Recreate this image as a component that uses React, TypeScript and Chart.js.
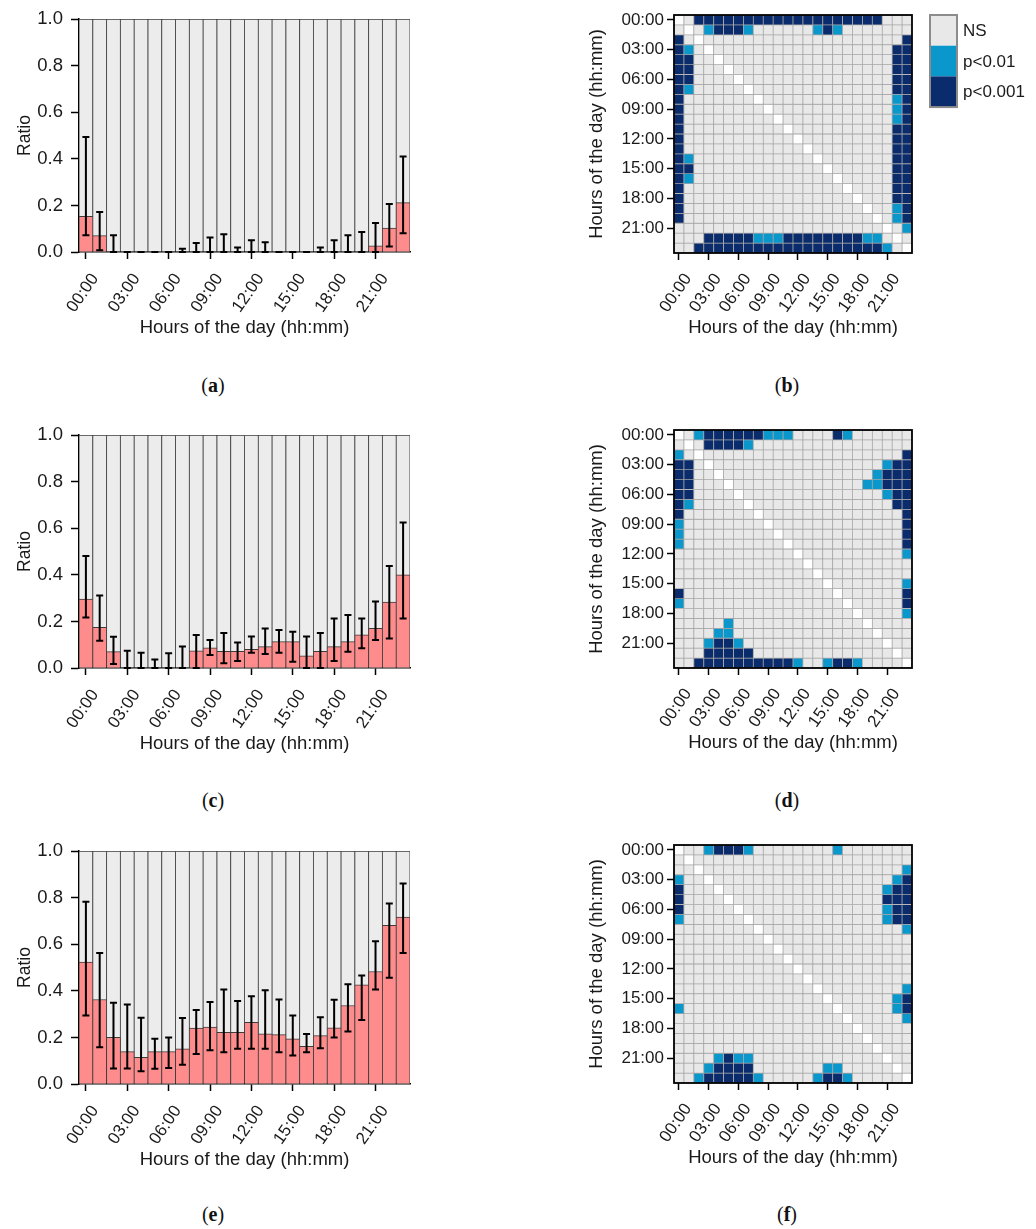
import React, { useEffect, useRef } from 'react';
import { Chart, registerables } from 'chart.js';

Chart.register(...registerables);

// ---------------- data ----------------
const HOUR_LABELS = [
  '00:00', '01:00', '02:00', '03:00', '04:00', '05:00', '06:00', '07:00',
  '08:00', '09:00', '10:00', '11:00', '12:00', '13:00', '14:00', '15:00',
  '16:00', '17:00', '18:00', '19:00', '20:00', '21:00', '22:00', '23:00',
];
const TICK_HOURS = [0, 3, 6, 9, 12, 15, 18, 21];
const RATIO_TICKS = [0, 0.2, 0.4, 0.6, 0.8, 1.0];
const FULL_SHARE = [1, 1, 1, 1, 1, 1, 1, 1, 1, 1, 1, 1, 1, 1, 1, 1, 1, 1, 1, 1, 1, 1, 1, 1];
const CELL_UNIT = [1, 1, 1, 1, 1, 1, 1, 1, 1, 1, 1, 1, 1, 1, 1, 1, 1, 1, 1, 1, 1, 1, 1, 1];

const X_TITLE = 'Hours of the day (hh:mm)';
const Y_TITLE_BAR = 'Ratio';
const Y_TITLE_HEAT = 'Hours of the day (hh:mm)';
const SIG_LABELS = ['NS', 'p<0.01', 'p<0.001'];
const SIG_CODES = ['.', 'o', 'X'];
const CAPTIONS = ['a', 'b', 'c', 'd', 'e', 'f'];

// (a)
const A_RATIO = [0.153, 0.07, 0, 0, 0, 0, 0, 0, 0, 0, 0, 0, 0, 0, 0, 0, 0, 0, 0, 0, 0, 0.026, 0.103, 0.212];
const A_LOW = [0.072, 0.007, 0, 0, 0, 0, 0, 0, 0, 0, 0, 0, 0, 0, 0, 0, 0, 0, 0, 0, 0, 0, 0.024, 0.08];
const A_HIGH = [0.494, 0.172, 0.072, 0, 0, 0, 0, 0.014, 0.039, 0.062, 0.076, 0.019, 0.05, 0.042, 0, 0, 0, 0.019, 0.05, 0.072, 0.086, 0.125, 0.206, 0.41];

// (c)
const C_RATIO = [0.296, 0.175, 0.07, 0, 0, 0, 0, 0, 0.074, 0.087, 0.072, 0.072, 0.08, 0.092, 0.113, 0.113, 0.052, 0.072, 0.092, 0.113, 0.142, 0.17, 0.283, 0.4];
const C_LOW = [0.217, 0.117, 0.017, 0, 0, 0, 0, 0, 0, 0.056, 0.02, 0.03, 0.066, 0.06, 0.066, 0.027, 0, 0, 0.03, 0.07, 0.085, 0.12, 0.127, 0.213];
const C_HIGH = [0.481, 0.311, 0.134, 0.074, 0.066, 0.037, 0.063, 0.092, 0.142, 0.12, 0.15, 0.11, 0.135, 0.17, 0.163, 0.156, 0.135, 0.15, 0.213, 0.228, 0.213, 0.285, 0.438, 0.625];

// (e)
const E_RATIO = [0.524, 0.363, 0.2, 0.139, 0.115, 0.139, 0.139, 0.151, 0.24, 0.244, 0.222, 0.222, 0.265, 0.215, 0.212, 0.194, 0.162, 0.208, 0.241, 0.337, 0.426, 0.483, 0.681, 0.717];
const E_LOW = [0.294, 0.158, 0.067, 0.067, 0.055, 0.065, 0.069, 0.083, 0.129, 0.145, 0.136, 0.151, 0.151, 0.151, 0.136, 0.122, 0.136, 0.154, 0.2, 0.225, 0.275, 0.406, 0.456, 0.562];
const E_HIGH = [0.782, 0.562, 0.349, 0.341, 0.284, 0.194, 0.2, 0.283, 0.318, 0.352, 0.406, 0.356, 0.377, 0.402, 0.363, 0.294, 0.215, 0.287, 0.362, 0.428, 0.466, 0.613, 0.775, 0.861];

// significance matrices: '.' NS, 'o' p<0.01, 'X' p<0.001, '-' diagonal
// (columns grouped by six: 00-05 | 06-11 | 12-17 | 18-23)
const HEAT_B = [
  '-.XXXX XXXXXX XXXXXX XXX...',
  '.-.oXX Xo.... ..oXo. ......',
  'X.-... ...... ...... .....X',
  'Xo.-.. ...... ...... ....XX',
  'XX..-. ...... ...... ....XX',
  'XX...- ...... ...... ....XX',
  'XX.... -..... ...... ....XX',
  'Xo.... .-.... ...... ....XX',
  'X..... ..-... ...... ....oX',
  'X..... ...-.. ...... ....oX',
  'X..... ....-. ...... ....oX',
  'X..... .....- ...... ....XX',
  'X..... ...... -..... ....XX',
  'X..... ...... .-.... ....XX',
  'Xo.... ...... ..-... ....XX',
  'XX.... ...... ...-.. ....XX',
  'Xo.... ...... ....-. ....XX',
  'X..... ...... .....- ....XX',
  'X..... ...... ...... -...XX',
  'X..... ...... ...... .-..oX',
  'X..... ...... ...... ..-.oX',
  '...... ...... ...... ...-.o',
  '...XXX XXoooX XXXXXX Xoo.-.',
  '..XXXX XXXXXX XXXXXX XXXo.-',
];
const HEAT_D = [
  '-.oXXX XXXooo ....Xo ......',
  '.-.XXX Xo.... ...... ......',
  'o.-... ...... ...... .....X',
  'XX.-.. ...... ...... ...oXX',
  'XX..-. ...... ...... ..oXXX',
  'XX...- ...... ...... .ooXXX',
  'XX.... -..... ...... ...oXX',
  'Xo.... .-.... ...... ....XX',
  'X..... ..-... ...... .....X',
  'o..... ...-.. ...... .....X',
  'o..... ....-. ...... .....X',
  'o..... .....- ...... .....X',
  '...... ...... -..... .....o',
  '...... ...... .-.... ......',
  '...... ...... ..-... ......',
  '...... ...... ...-.. .....o',
  'X..... ...... ....-. .....X',
  'o..... ...... .....- .....X',
  '...... ...... ...... -....o',
  '.....o ...... ...... .-....',
  '....oo ...... ...... ..-...',
  '...oXX o..... ...... ...-..',
  '...XXX XX.... ...... ....-.',
  '..XXXX XXXXXX o..oXX o....-',
];
const HEAT_F = [
  '-..oXX Xo.... ....o. ......',
  '.-.... ...... ...... ......',
  '..-... ...... ...... .....o',
  'o..-.. ...... ...... ....oX',
  'X...-. ...... ...... ...oXX',
  'X....- ...... ...... ...XXX',
  'X..... -..... ...... ...oXX',
  'o..... .-.... ...... ...oXX',
  '...... ..-... ...... .....o',
  '...... ...-.. ...... ......',
  '...... ....-. ...... ......',
  '...... .....- ...... ......',
  '...... ...... -..... ......',
  '...... ...... .-.... ......',
  '...... ...... ..-... .....o',
  '...... ...... ...-.. ....oX',
  'o..... ...... ....-. ....oX',
  '...... ...... .....- .....o',
  '...... ...... ...... -.....',
  '...... ...... ...... .-....',
  '...... ...... ...... ..-...',
  '....oX oo.... ...... ...-..',
  '...oXX XX.... ...oo. ....-.',
  '..oXXX XXo... ..oXXo .....-',
];

// ---------------- styles ----------------
const FONT = "'Liberation Sans', Arial, Helvetica, sans-serif";
const SERIF = "'Liberation Serif', 'Times New Roman', serif";
const TEXT = '#1a1a1a';
const TICK_SIZE = 17;
const RATIO_TICK_SIZE = 18.5;
const TITLE_SIZE = 18.5;
const PINK = '#ff8c8c';
const GREY_BAR = '#ececec';
const BAR_EDGE = '#3c3c3c';
const CELL_EDGE = '#a6a6a6';
const CELL_COLORS: Record<string, string> = {
  '.': '#e8e8e8',
  'o': '#0a97cc',
  'X': '#0a2c6c',
  '-': '#ffffff',
};
const LABEL_ANGLE = 55;

const BAR_PLOT_TOPS = [19, 435, 851];
const HEAT_PLOT_TOPS = [15, 430, 845];
const CAPTION_YS = [385, 800, 1214];

// ---------------- plugins ----------------
function hourLabelsPlugin(gap: number) {
  return {
    id: 'hourLabels',
    afterDraw(chart: any) {
      const xs = chart.scales.x;
      const ctx = chart.ctx;
      const a = (LABEL_ANGLE * Math.PI) / 180;
      ctx.save();
      ctx.font = `${TICK_SIZE}px ${FONT}`;
      ctx.fillStyle = TEXT;
      ctx.textAlign = 'center';
      ctx.textBaseline = 'middle';
      TICK_HOURS.forEach((h) => {
        const label = HOUR_LABELS[h];
        const w = ctx.measureText(label).width;
        const th = TICK_SIZE * 0.75;
        const bh = w * Math.sin(a) + th * Math.cos(a);
        const cx = xs.getPixelForValue(h) - 3;
        const cy = xs.top + gap + bh / 2;
        ctx.save();
        ctx.translate(cx, cy);
        ctx.rotate(-a);
        ctx.fillText(label, 0, 0);
        ctx.restore();
      });
      ctx.restore();
    },
  };
}

function errorBarsPlugin(low: number[], high: number[]) {
  return {
    id: 'errorBars',
    afterDatasetsDraw(chart: any) {
      const xs = chart.scales.x;
      const ys = chart.scales.y;
      const ctx = chart.ctx;
      ctx.save();
      ctx.strokeStyle = '#000';
      ctx.lineWidth = 2;
      low.forEach((lo, i) => {
        const x = xs.getPixelForValue(i);
        const y1 = ys.getPixelForValue(lo);
        const y2 = ys.getPixelForValue(high[i]);
        ctx.beginPath();
        ctx.moveTo(x, y1);
        ctx.lineTo(x, y2);
        ctx.moveTo(x - 3.5, y1);
        ctx.lineTo(x + 3.5, y1);
        ctx.moveTo(x - 3.5, y2);
        ctx.lineTo(x + 3.5, y2);
        ctx.stroke();
      });
      ctx.restore();
    },
  };
}

const framePlugin = {
  id: 'frame',
  afterDatasetsDraw(chart: any) {
    const { left, top, right, bottom } = chart.chartArea;
    const ctx = chart.ctx;
    ctx.save();
    ctx.strokeStyle = '#000';
    ctx.lineWidth = 1.8;
    ctx.strokeRect(left, top, right - left, bottom - top);
    ctx.restore();
  },
};

function sigLegendPlugin(x: number, y: number) {
  return {
    id: 'sigLegend',
    afterDraw(chart: any) {
      const ctx = chart.ctx;
      const bw = 27;
      const bh = 30.7;
      ctx.save();
      SIG_CODES.forEach((code, i) => {
        ctx.fillStyle = CELL_COLORS[code];
        ctx.fillRect(x, y + i * bh, bw, bh);
      });
      ctx.strokeStyle = '#8c8c8c';
      ctx.lineWidth = 2;
      ctx.strokeRect(x, y, bw, bh * 3);
      ctx.font = `${TICK_SIZE}px ${FONT}`;
      ctx.fillStyle = TEXT;
      ctx.textAlign = 'left';
      ctx.textBaseline = 'middle';
      SIG_LABELS.forEach((lab, i) => {
        ctx.fillText(lab, x + bw + 6, y + i * bh + bh / 2 + 1);
      });
      ctx.restore();
    },
  };
}

// ---------------- configs ----------------
const tickFont = { family: FONT, size: TICK_SIZE };
const titleFont = { family: FONT, size: TITLE_SIZE };
const everyThird = (c: any) => (c.index % 3 === 0 ? '#000' : 'rgba(0,0,0,0)');

function ratioConfig(ratio: number[], low: number[], high: number[]): any {
  const edge = { top: 1, left: 0.8, right: 0.8, bottom: 0 };
  return {
    type: 'bar',
    data: {
      labels: HOUR_LABELS,
      datasets: [
        {
          data: ratio,
          backgroundColor: PINK,
          borderColor: BAR_EDGE,
          borderWidth: edge,
          borderSkipped: false,
          grouped: false,
          order: 0,
          barPercentage: 1,
          categoryPercentage: 1,
        },
        {
          data: FULL_SHARE,
          backgroundColor: GREY_BAR,
          borderColor: BAR_EDGE,
          borderWidth: edge,
          borderSkipped: false,
          grouped: false,
          order: 1,
          barPercentage: 1,
          categoryPercentage: 1,
        },
      ],
    },
    options: {
      animation: false,
      responsive: false,
      events: [],
      layout: { padding: { left: 0, right: 20, top: 19, bottom: 0 } },
      plugins: { legend: { display: false }, tooltip: { enabled: false } },
      scales: {
        x: {
          type: 'category',
          offset: true,
          grid: {
            offset: false,
            drawOnChartArea: false,
            tickLength: 7,
            tickWidth: 1.5,
            tickColor: everyThird,
          },
          border: { display: true, color: '#000', width: 1.5 },
          ticks: { display: false },
          title: {
            display: true,
            text: X_TITLE,
            color: TEXT,
            font: titleFont,
            padding: { top: 0, bottom: 3 },
          },
          afterFit: (s: any) => {
            s.height = 90;
          },
        },
        y: {
          type: 'linear',
          min: 0,
          max: 1,
          afterBuildTicks: (s: any) => {
            s.ticks = RATIO_TICKS.map((v) => ({ value: v }));
          },
          ticks: {
            callback: (v: any) => Number(v).toFixed(1),
            font: { family: FONT, size: RATIO_TICK_SIZE },
            color: TEXT,
            padding: 8,
          },
          grid: {
            drawOnChartArea: false,
            tickLength: 8,
            tickWidth: 1.5,
            tickColor: '#000',
          },
          border: { display: true, color: '#000', width: 1.5 },
          title: {
            display: true,
            text: Y_TITLE_BAR,
            color: TEXT,
            font: { family: FONT, size: 17.5 },
            padding: { top: 15, bottom: 0 },
          },
          afterFit: (s: any) => {
            s.width = 79;
          },
        },
      },
    },
    plugins: [errorBarsPlugin(low, high), hourLabelsPlugin(20)],
  };
}

function heatConfig(rows: string[], withLegend: boolean): any {
  const cells = rows.map((r) => r.replace(/ /g, ''));
  const datasets = cells.map((row) => ({
    data: CELL_UNIT,
    backgroundColor: HOUR_LABELS.map((_, j) => CELL_COLORS[row[j] || '.']),
    borderColor: CELL_EDGE,
    borderWidth: 0.75,
    borderSkipped: false,
    barPercentage: 1,
    categoryPercentage: 1,
  }));
  const plugins: any[] = [framePlugin, hourLabelsPlugin(19)];
  if (withLegend) plugins.push(sigLegendPlugin(370, 15));
  return {
    type: 'bar',
    data: { labels: HOUR_LABELS, datasets },
    options: {
      animation: false,
      responsive: false,
      events: [],
      layout: { padding: { left: 0, right: 124, top: 15, bottom: 0 } },
      plugins: { legend: { display: false }, tooltip: { enabled: false } },
      scales: {
        x: {
          type: 'category',
          stacked: true,
          offset: true,
          grid: {
            offset: false,
            drawOnChartArea: false,
            tickLength: 7,
            tickWidth: 1.5,
            tickColor: everyThird,
          },
          border: { display: false },
          ticks: { display: false },
          title: {
            display: true,
            text: X_TITLE,
            color: TEXT,
            font: titleFont,
            padding: { top: 0, bottom: 4 },
          },
          afterFit: (s: any) => {
            s.height = 90;
          },
        },
        y: {
          type: 'linear',
          stacked: true,
          min: 0,
          max: 24,
          reverse: true,
          afterBuildTicks: (s: any) => {
            s.ticks = TICK_HOURS.map((h) => ({ value: h + 0.5 }));
          },
          ticks: {
            callback: (v: any) => HOUR_LABELS[Math.floor(Number(v))],
            font: tickFont,
            color: TEXT,
            padding: 3,
          },
          grid: {
            drawOnChartArea: false,
            tickLength: 7,
            tickWidth: 1.5,
            tickColor: '#000',
          },
          border: { display: false },
          title: {
            display: true,
            text: Y_TITLE_HEAT,
            color: TEXT,
            font: titleFont,
            padding: { top: 26, bottom: 0 },
          },
          afterFit: (s: any) => {
            s.width = 114;
          },
        },
      },
    },
    plugins,
  };
}

// ---------------- components ----------------
function ChartCanvas(props: { left: number; top: number; width: number; height: number; build: () => any }) {
  const ref = useRef<HTMLCanvasElement>(null);
  useEffect(() => {
    const chart = new Chart(ref.current as HTMLCanvasElement, props.build());
    return () => chart.destroy();
  }, []);
  return (
    <canvas
      ref={ref}
      width={props.width}
      height={props.height}
      style={{ position: 'absolute', left: props.left, top: props.top, width: props.width, height: props.height }}
    />
  );
}

function Caption(props: { letter: string; cx: number; cy: number }) {
  return (
    <div
      style={{
        position: 'absolute',
        left: props.cx - 40,
        top: props.cy - 12,
        width: 80,
        textAlign: 'center',
        fontFamily: SERIF,
        fontSize: 20,
        lineHeight: '24px',
        color: '#111',
      }}
    >
      (<b>{props.letter}</b>)
    </div>
  );
}

const BAR_SETS = [
  { ratio: A_RATIO, low: A_LOW, high: A_HIGH },
  { ratio: C_RATIO, low: C_LOW, high: C_HIGH },
  { ratio: E_RATIO, low: E_LOW, high: E_HIGH },
];
const HEAT_SETS = [HEAT_B, HEAT_D, HEAT_F];

export default function App() {
  return (
    <div
      style={{
        position: 'absolute',
        left: 0,
        top: 0,
        width: 1036,
        height: 1229,
        background: '#ffffff',
        overflow: 'hidden',
      }}
    >
      {BAR_SETS.map((set, i) => (
        <ChartCanvas
          key={'bar' + i}
          left={0}
          top={BAR_PLOT_TOPS[i] - 19}
          width={430}
          height={19 + 233 + 90}
          build={() => ratioConfig(set.ratio, set.low, set.high)}
        />
      ))}
      {HEAT_SETS.map((rows, i) => (
        <ChartCanvas
          key={'heat' + i}
          left={560}
          top={HEAT_PLOT_TOPS[i] - 15}
          width={476}
          height={15 + 238 + 90}
          build={() => heatConfig(rows, i === 0)}
        />
      ))}
      {CAPTION_YS.map((y, i) => (
        <React.Fragment key={'cap' + i}>
          <Caption letter={CAPTIONS[i * 2]} cx={213} cy={y} />
          <Caption letter={CAPTIONS[i * 2 + 1]} cx={787} cy={y} />
        </React.Fragment>
      ))}
    </div>
  );
}
